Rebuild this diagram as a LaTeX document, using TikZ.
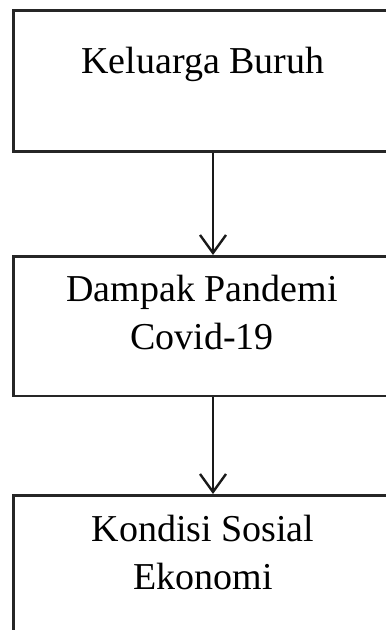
\documentclass[tikz,border=0pt]{standalone}
\usepackage{fontspec}
\setmainfont{Liberation Serif}
\usetikzlibrary{arrows.meta}
\begin{document}
\begin{tikzpicture}[x=1pt,y=-1pt,
  box/.style={draw=black!85, line width=2.6pt, rectangle, inner sep=0pt, anchor=north west},
  lbl/.style={inner sep=0pt, align=center, font=\fontsize{38}{47.5}\selectfont, anchor=base},
  conn/.style={draw=black!90, line width=2.4pt, -{Straight Barb[length=18pt,width=26pt,line width=2.4pt]}}]
\useasboundingbox (0,0) rectangle (386,630);
\clip (0,0) rectangle (386,630);
\node[box, minimum width=400pt, minimum height=141pt] (b1) at (12,9) {};
\node[box, minimum width=400pt, minimum height=139.5pt] (b2) at (12,255) {};
\node[box, minimum width=400pt, minimum height=160pt] (b3) at (12,494) {};
\node[lbl] (t1) at (203,73) {Keluarga Buruh};
\node[lbl] (t2) at (202,349) {Dampak Pandemi\\Covid-19};
\node[lbl] (t3) at (203,589) {Kondisi Sosial\\Ekonomi};
\coordinate (ax) at (213,0);
\draw[conn] (b1.south -| ax) -- (b2.north -| ax);
\draw[conn] (b2.south -| ax) -- (b3.north -| ax);
\end{tikzpicture}
\end{document}
